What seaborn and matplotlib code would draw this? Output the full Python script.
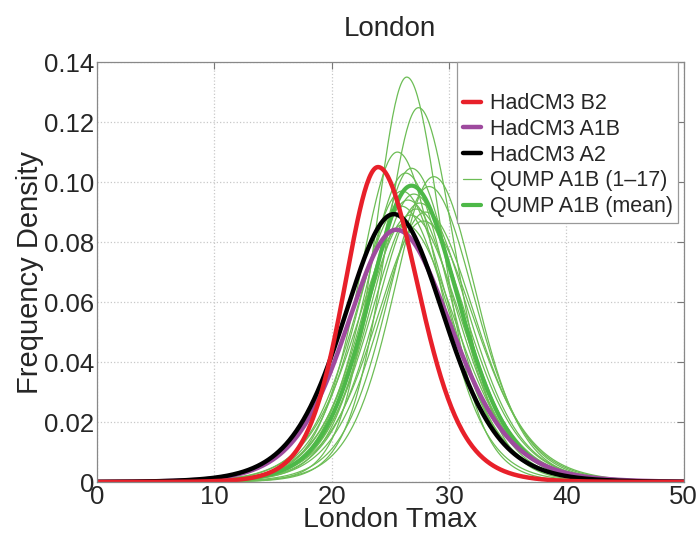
import numpy as np
import pandas as pd
import matplotlib
matplotlib.use("Agg")
import matplotlib.pyplot as plt
import seaborn as sns
from matplotlib.lines import Line2D

# fitted Tmax curves:
# mode (deg C), peak height, left / right half-width scale
had_names = ["HadCM3 B2", "HadCM3 A1B", "HadCM3 A2"]
had_mode = [23.95, 25.5, 25.3]
had_peak = [0.105, 0.0841, 0.0893]
had_wl = [3.0, 4.4, 4.4]
had_wr = [3.6, 4.9, 4.5]

qump_mode = [26.4, 27.4, 25.6, 26.8, 28.7, 26.3, 28.3, 26.0, 27.0,
             26.5, 27.5, 25.9, 27.2, 26.7, 28.0, 27.8, 26.2]
qump_peak = [0.135, 0.1248, 0.110, 0.1046, 0.1018, 0.103, 0.0985, 0.097, 0.096,
             0.094, 0.093, 0.092, 0.091, 0.089, 0.090, 0.087, 0.086]
qump_wl = [2.8, 3.0, 3.4, 3.5, 3.6, 3.6, 3.7, 3.8, 3.8,
           3.9, 3.9, 4.0, 4.0, 4.1, 4.0, 4.2, 4.2]
qump_wr = [3.1, 3.3, 3.7, 3.9, 3.8, 3.9, 4.1, 4.1, 4.2,
           4.3, 4.3, 4.3, 4.4, 4.5, 4.4, 4.6, 4.6]

qump_mean_mode = 26.8
qump_mean_peak = 0.0988
qump_mean_wl = 3.8
qump_mean_wr = 4.2

nu = 8  # tail heaviness of the curves
xgrid = np.linspace(0, 50, 501)


def curve(x, mode, peak, wl, wr):
    # split student-t shaped density curve
    w = np.where(x < mode, wl, wr)
    u = (x - mode) / w
    return peak * (1 + u ** 2 / nu) ** (-(nu + 1) / 2)


sns.set_style("white")
plt.rcParams['font.family'] = ['Liberation Sans', 'DejaVu Sans']

fig = plt.figure(figsize=(6.97, 5.37), dpi=100)
ax = fig.add_axes([0.139, 0.1024, 0.842, 0.782])

green_thin = "#6cbd55"
green_thick = "#4db848"
had_colors = ["#e8202a", "#9e4a9e", "#000000"]

for i in range(len(qump_mode)):
    sns.lineplot(x=xgrid, y=curve(xgrid, qump_mode[i], qump_peak[i], qump_wl[i], qump_wr[i]),
                 ax=ax, color=green_thin, lw=0.9, legend=False)

sns.lineplot(x=xgrid, y=curve(xgrid, qump_mean_mode, qump_mean_peak, qump_mean_wl, qump_mean_wr),
             ax=ax, color=green_thick, lw=3.0, legend=False)

# purple, black, then red on top
for i in [1, 2, 0]:
    sns.lineplot(x=xgrid, y=curve(xgrid, had_mode[i], had_peak[i], had_wl[i], had_wr[i]),
                 ax=ax, color=had_colors[i], lw=3.2, legend=False)

ax.set_xlim(0, 50)
ax.set_ylim(0, 0.14)
ax.set_xticks(np.arange(0, 51, 10))
ax.set_yticks(np.arange(0, 0.141, 0.02))
ax.set_yticklabels(["0"] + ["%.2f" % v for v in np.arange(0.02, 0.141, 0.02)])
ax.tick_params(direction="in", length=5, labelsize=18.5, top=True, right=True,
               color="#777777", pad=2)
for s in ax.spines.values():
    s.set_color("#888888")
    s.set_linewidth(0.9)
ax.grid(True, linestyle=":", color="#c8c8c8", linewidth=0.9)

ax.set_title("London", fontsize=20, pad=19)
ax.set_xlabel("London Tmax", fontsize=20.5, labelpad=-1)
ax.set_ylabel("Frequency Density", fontsize=21, labelpad=0)

handles = [Line2D([], [], color="none")]
handles += [Line2D([], [], color=c, lw=3.2) for c in had_colors]
handles += [Line2D([], [], color=green_thin, lw=0.9),
            Line2D([], [], color=green_thick, lw=3.0)]
labels = [" "] + had_names + ["QUMP A1B (1\u201317)", "QUMP A1B (mean)"]
leg = ax.legend(handles, labels, loc="upper right", bbox_to_anchor=(0.99, 1.0),
                fontsize=15.5, frameon=True, fancybox=False, framealpha=1,
                handlelength=0.85, handletextpad=0.4, labelspacing=0.22,
                borderpad=0.25, borderaxespad=0)
leg.get_frame().set_edgecolor("#999999")
leg.get_frame().set_linewidth(0.9)

fig.savefig("out.png", dpi=100)
